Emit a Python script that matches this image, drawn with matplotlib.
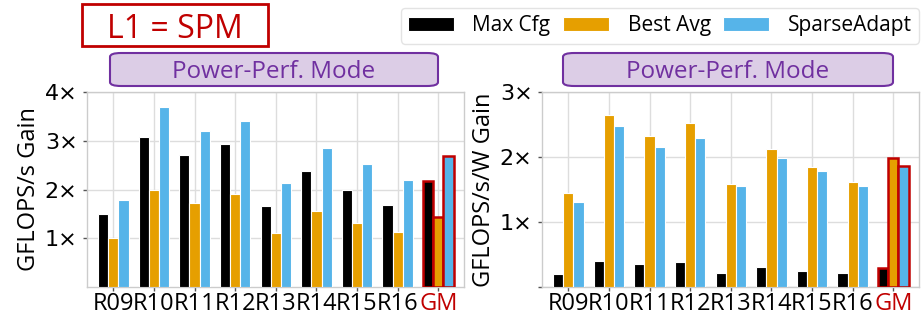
import matplotlib
matplotlib.use("Agg")
import matplotlib.pyplot as plt
from matplotlib.patches import FancyBboxPatch
import numpy as np

plt.rcParams['font.family'] = ['Open Sans', 'DejaVu Sans']

categories = ["R09", "R10", "R11", "R12", "R13", "R14", "R15", "R16", "GM"]
series_names = ["Max Cfg", "Best Avg", "SparseAdapt"]
colors = ["#000000", "#e69f00", "#56b4e9"]

# GFLOPS/s gain
perf_max_cfg = [1.49, 3.07, 2.70, 2.93, 1.66, 2.38, 1.98, 1.69, 2.18]
perf_best_avg = [1.00, 2.00, 1.72, 1.90, 1.11, 1.55, 1.32, 1.12, 1.44]
perf_sparseadapt = [1.78, 3.70, 3.20, 3.41, 2.14, 2.86, 2.52, 2.19, 2.68]

# GFLOPS/s/W gain
eff_max_cfg = [0.19, 0.39, 0.345, 0.375, 0.21, 0.30, 0.25, 0.215, 0.29]
eff_best_avg = [1.44, 2.645, 2.33, 2.52, 1.58, 2.12, 1.85, 1.61, 1.98]
eff_sparseadapt = [1.30, 2.475, 2.15, 2.29, 1.55, 1.98, 1.78, 1.555, 1.86]

perf_ticks = [1, 2, 3, 4]
eff_ticks = [0, 1, 2, 3]

red = "#c00000"
purple = "#7030a0"
lavender = "#dccde6"
grid_c = "#dddddd"

W, H = 922, 320
fig = plt.figure(figsize=(W / 100, H / 100), dpi=100)


def px_rect(x0, y0, x1, y1):
    return [x0 / W, 1 - y1 / H, (x1 - x0) / W, (y1 - y0) / H]


def draw_panel(ax, series, ylim, ticks, ylabel):
    x = np.arange(len(categories))
    offsets = [-0.25, 0.0, 0.25]
    for vals, off, col, name in zip(series, offsets, colors, series_names):
        bars = ax.bar(x + off, vals, width=0.25, color=col, edgecolor="white",
                      linewidth=0.8, label=name, zorder=3)
        gm = bars[-1]
        gm.set_edgecolor(red)
        gm.set_linewidth(1.8)
    ax.set_xlim(-0.64, len(categories) - 0.36)
    ax.set_ylim(*ylim)
    ax.set_xticks(x)
    ax.set_xticklabels(categories, fontsize=17)
    ax.get_xticklabels()[-1].set_color(red)
    ax.set_yticks(ticks)
    ax.set_yticklabels(["" if t == 0 else f"{t}\u00d7" for t in ticks],
                       fontsize=16, family="DejaVu Sans")
    ax.grid(True, color=grid_c, linewidth=1, zorder=0)
    ax.set_axisbelow(True)
    for s in ax.spines.values():
        s.set_color("#cccccc")
        s.set_linewidth(1)
    ax.tick_params(axis="both", length=3, width=1, color="#555555", pad=4)
    ax.tick_params(axis="x", pad=1)
    ax.set_ylabel(ylabel, fontsize=17, labelpad=3)


ax1 = fig.add_axes(px_rect(87.3, 92.3, 464.3, 286.7))
draw_panel(ax1, [perf_max_cfg, perf_best_avg, perf_sparseadapt], (0, 4),
           perf_ticks, "GFLOPS/s Gain")
ax2 = fig.add_axes(px_rect(542.3, 92.3, 919.3, 286.7))
draw_panel(ax2, [eff_max_cfg, eff_best_avg, eff_sparseadapt], (0, 3),
           eff_ticks, "GFLOPS/s/W Gain")


def fig_box(x0, y0, x1, y1, fc, ec, lw, style, text, tcolor, size):
    r = px_rect(x0, y0, x1, y1)
    p = FancyBboxPatch((r[0], r[1]), r[2], r[3], boxstyle=style,
                       transform=fig.transFigure, facecolor=fc, edgecolor=ec,
                       linewidth=lw, zorder=5)
    fig.patches.append(p)
    fig.text((x0 + x1) / 2 / W, 1 - (y0 + y1) / 2 / H, text, color=tcolor,
             fontsize=size, ha="center", va="center_baseline", zorder=6)


fig_box(110, 53, 438, 86, lavender, purple, 1.5,
        "round,pad=0,rounding_size=0.012", "Power-Perf. Mode", purple, 17.5)
fig_box(563, 53, 893, 86, lavender, purple, 1.5,
        "round,pad=0,rounding_size=0.012", "Power-Perf. Mode", purple, 17.5)
fig_box(82, 4, 268, 46, "white", red, 2, "square,pad=0", "L1 = SPM", red, 23)

handles, labels = ax1.get_legend_handles_labels()
leg = fig.legend(handles, labels, loc="upper right",
                 bbox_to_anchor=(919 / W, 1 - 8 / H), ncol=3, fontsize=15,
                 frameon=True, fancybox=True, handlelength=2.2,
                 handleheight=0.68, handletextpad=0.9, columnspacing=0.6,
                 borderpad=0.35, borderaxespad=0)
leg.get_frame().set_edgecolor("#dddddd")
leg.get_frame().set_linewidth(1)
for h in leg.legend_handles:
    h.set_edgecolor("white")
    h.set_linewidth(0.8)

fig.savefig("out.png", dpi=100)
